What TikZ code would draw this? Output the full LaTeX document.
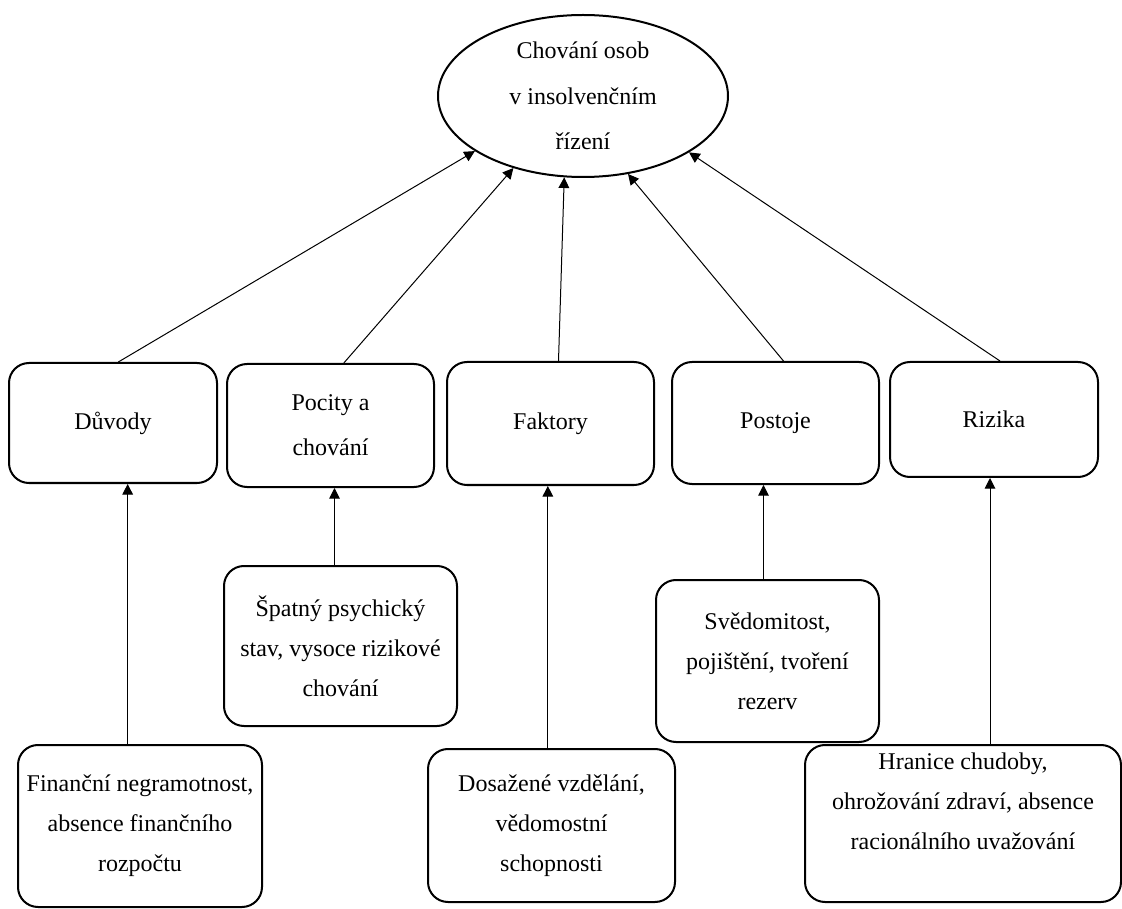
\documentclass[tikz,border=0pt]{standalone}
\usepackage{fontspec}
\setmainfont{Liberation Serif}
\usetikzlibrary{shapes.geometric,arrows.meta}

\begin{document}
\begin{tikzpicture}[
  x=0.75pt, y=-0.75pt,
  box/.style={draw,line width=1.5pt,rounded corners=15pt,align=center,inner sep=2pt,font=\fontsize{18}{30}\selectfont},
  wbox/.style={box,font=\fontsize{18}{34}\selectfont},
  goal/.style={draw,ellipse,line width=1.5pt,align=center,inner sep=0pt,font=\fontsize{18}{34}\selectfont},
  arr/.style={-{Triangle[length=8pt,width=8pt]},line width=0.75pt}
]
  \useasboundingbox (0,0) rectangle (1122,909);
  % goal
  \node[goal,minimum width=217.5pt,minimum height=121.5pt] (top) at (583,96) {Chování osob\\ v insolvenčním\\ řízení};
  % middle row
  \node[box,minimum width=156pt,minimum height=90pt] (dv) at (113,423) {Důvody};
  \node[wbox,minimum width=155.25pt,minimum height=92.25pt] (poc) at (330.5,425.5) {Pocity a\\ chování};
  \node[box,minimum width=155.25pt,minimum height=92.25pt] (fak) at (550.5,423.5) {Faktory};
  \node[box,minimum width=155.25pt,minimum height=91.5pt] (pos) at (775.5,423) {Postoje};
  \node[box,minimum width=156pt,minimum height=86.25pt] (riz) at (994,419.5) {Rizika};
  % bottom row
  \node[box,minimum width=183pt,minimum height=121.5pt] (fin) at (140,826) {Finanční negramotnost,\\ absence finančního\\ rozpočtu};
  \node[box,minimum width=174.75pt,minimum height=120pt] (spat) at (340.5,646) {Špatný psychický\\ stav, vysoce rizikové\\ chování};
  \node[box,minimum width=185.25pt,minimum height=114.75pt] (dos) at (551.5,825.5) {Dosažené vzdělání,\\ vědomostní\\ schopnosti};
  \node[box,minimum width=167.25pt,minimum height=121.5pt] (sved) at (767.5,661) {Svědomitost,\\ pojištění, tvoření\\ rezerv};
  \node[box,minimum width=237pt,minimum height=117.75pt,text depth=34pt] (hran) at (963,823.5) {Hranice chudoby,\\ ohrožování zdraví, absence\\ racionálního uvažování};
  % middle -> goal
  \draw[arr] ([xshift=4pt]dv.north) -- (top.-153);
  \draw[arr] ([xshift=10pt]poc.north) -- (top.-134);
  \draw[arr] ([xshift=6pt]fak.north) -- (top.-103);
  \draw[arr] ([xshift=6pt]pos.north) -- (top.-60);
  \draw[arr] ([xshift=4.5pt]riz.north) -- (top.-28);
  % bottom -> middle
  \coordinate (d1) at ([xshift=11pt]dv.south);
  \coordinate (d2) at ([xshift=3pt]poc.south);
  \coordinate (d3) at ([xshift=-2pt]fak.south);
  \coordinate (d4) at ([xshift=-9pt]pos.south);
  \coordinate (d5) at ([xshift=-3pt]riz.south);
  \draw[arr] (fin.north -| d1) -- (d1);
  \draw[arr] (spat.north -| d2) -- (d2);
  \draw[arr] (dos.north -| d3) -- (d3);
  \draw[arr] (sved.north -| d4) -- (d4);
  \draw[arr] (hran.north -| d5) -- (d5);
\end{tikzpicture}
\end{document}
